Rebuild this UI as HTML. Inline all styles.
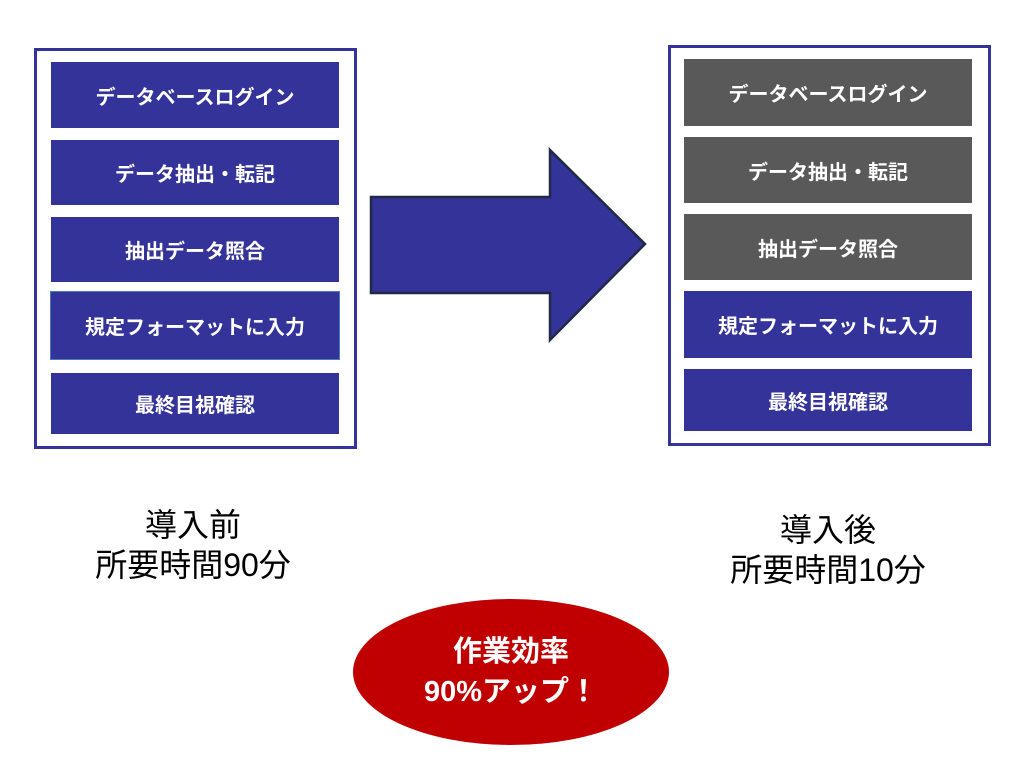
<!DOCTYPE html>
<html><head><meta charset="utf-8"><style>
body{margin:0;width:1024px;height:778px;background:#fff;position:relative;overflow:hidden;font-family:"Liberation Sans","Noto Sans CJK JP",sans-serif}
.frame{position:absolute;border:3px solid #333399;box-sizing:border-box;background:#fff}
.b{position:absolute;color:#fff;font-weight:bold;font-size:20px;display:flex;align-items:center;justify-content:center;background:#333399}
.g{background:#595959}
.t{position:absolute;font-size:32px;text-align:center;line-height:40px;color:#000}
</style></head><body>
<div class="frame" style="left:34px;top:48px;width:323px;height:401px"></div>
<div class="b" style="left:51px;top:62px;width:288px;height:66px">データベースログイン</div>
<div class="b" style="left:51px;top:140px;width:288px;height:65px">データ抽出・転記</div>
<div class="b" style="left:51px;top:217px;width:288px;height:65px">抽出データ照合</div>
<div class="b" style="left:51px;top:292px;width:288px;height:67px;outline:1px solid #4a7bc0">規定フォーマットに入力</div>
<div class="b" style="left:51px;top:373px;width:288px;height:61px">最終目視確認</div>

<div class="frame" style="left:668px;top:45px;width:323px;height:401px"></div>
<div class="b g" style="left:684px;top:59px;width:288px;height:67px">データベースログイン</div>
<div class="b g" style="left:684px;top:137px;width:288px;height:66px">データ抽出・転記</div>
<div class="b g" style="left:684px;top:214px;width:288px;height:66px">抽出データ照合</div>
<div class="b" style="left:684px;top:291px;width:288px;height:67px">規定フォーマットに入力</div>
<div class="b" style="left:684px;top:369px;width:288px;height:62px">最終目視確認</div>

<svg style="position:absolute;left:0;top:0" width="1024" height="778">
<polygon points="371,197 550,197 550,150 645,244 550,340 550,293 371,293" fill="#333399" stroke="#1f2a44" stroke-width="2.5"/>
<ellipse cx="511" cy="672" rx="158" ry="73" fill="#c00000"/>
</svg>
<div class="t" style="left:43px;top:505px;width:300px">導入前<br>所要時間90分</div>
<div class="t" style="left:678px;top:510px;width:300px">導入後<br>所要時間10分</div>
<div class="t" style="left:361px;top:632px;width:300px;color:#fff;font-weight:bold;font-size:29px">作業効率<br>90%アップ！</div>
</body></html>
